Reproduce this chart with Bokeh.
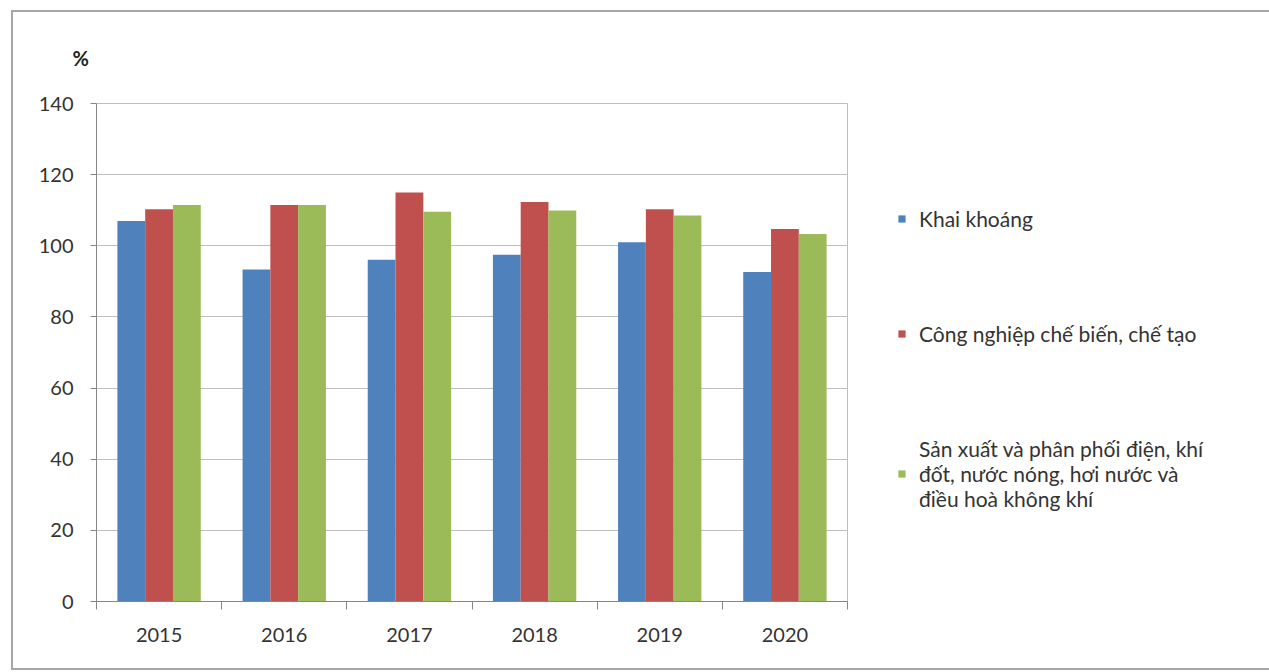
from bokeh.plotting import figure
from bokeh.models import (ColumnDataSource, Range1d, FixedTicker, Legend, LegendItem, Title)
from bokeh.transform import dodge
from bokeh.embed import file_html
from bokeh.resources import INLINE

years = ["2015", "2016", "2017", "2018", "2019", "2020"]
khai_khoang = [107.0, 93.3, 96.1, 97.5, 101.0, 92.6]
che_bien = [110.3, 111.5, 115.0, 112.3, 110.3, 104.7]
dien_khi = [111.5, 111.5, 109.6, 109.9, 108.5, 103.3]
y_ticks = [0, 20, 40, 60, 80, 100, 120, 140]
series_names = ["Khai khoáng", "Công nghiệp chế biến, chế tạo",
                "Sản xuất và phân phối điện, khí\nđốt, nước nóng, hơi nước và\nđiều hoà không khí"]
colors = ["#4F81BD", "#C0504D", "#9BBB59"]

xc = [i + 0.5 for i in range(len(years))]
src = ColumnDataSource(dict(xc=xc, a=khai_khoang, b=che_bien, c=dien_khi))

p = figure(x_range=Range1d(0, len(years)), y_range=Range1d(0, 140),
           frame_width=751, frame_height=498,
           min_border_left=83, min_border_right=419, min_border_top=91, min_border_bottom=67,
           output_backend="svg", toolbar_location=None,
           background_fill_color="white", border_fill_color="white")
p.styles = {"border": "2px solid #a6a6a6", "margin-left": "11px", "margin-top": "10px"}

bw = 0.222
r1 = p.vbar(x=dodge("xc", -bw, range=p.x_range), top="a", width=bw, source=src,
            fill_color=colors[0], line_color=None)
r2 = p.vbar(x=dodge("xc", 0, range=p.x_range), top="b", width=bw, source=src,
            fill_color=colors[1], line_color=None)
r3 = p.vbar(x=dodge("xc", bw, range=p.x_range), top="c", width=bw, source=src,
            fill_color=colors[2], line_color=None)

p.outline_line_color = "#bfbfbf"
p.xgrid.visible = False
p.ygrid.grid_line_color = "#bfbfbf"
p.ygrid.ticker = FixedTicker(ticks=y_ticks)

xa = p.xaxis[0]
xa.ticker = FixedTicker(ticks=xc, minor_ticks=list(range(len(years) + 1)))
xa.major_label_overrides = {x: y for x, y in zip(xc, years)}
xa.major_tick_out = 0
xa.major_tick_in = 0
xa.minor_tick_out = 8
xa.minor_tick_in = 0
xa.minor_tick_line_color = "#868686"
xa.axis_line_color = "#868686"
xa.major_label_standoff = 18
xa.major_label_text_font = "Lato"
xa.major_label_text_font_size = "20px"
xa.major_label_text_color = "#333333"

ya = p.yaxis[0]
ya.ticker = FixedTicker(ticks=y_ticks, minor_ticks=[])
ya.major_tick_out = 6
ya.major_tick_in = 0
ya.minor_tick_out = 0
ya.minor_tick_in = 0
ya.major_tick_line_color = "#868686"
ya.axis_line_color = "#868686"
ya.major_label_standoff = 17
ya.major_label_text_font = "Lato"
ya.major_label_text_font_size = "20px"
ya.major_label_text_color = "#333333"

p.add_layout(Title(text="%", align="left", offset=-24, standoff=64, vertical_align="top",
                   text_font="Lato", text_font_style="bold", text_font_size="20px",
                   text_color="#222222"), "above")

legend = Legend(items=[LegendItem(label=series_names[i], renderers=[r])
                       for i, r in enumerate([r1, r2, r3])],
                location=(50, 90), orientation="vertical",
                padding=0, margin=0, spacing=90,
                glyph_width=9, glyph_height=9, label_standoff=13,
                label_height=20, label_text_font="Lato", label_text_font_size="21px",
                label_text_color="#333333", border_line_color=None,
                background_fill_alpha=0)
p.add_layout(legend, "right")

open("out.html", "w").write(file_html(p, INLINE))
